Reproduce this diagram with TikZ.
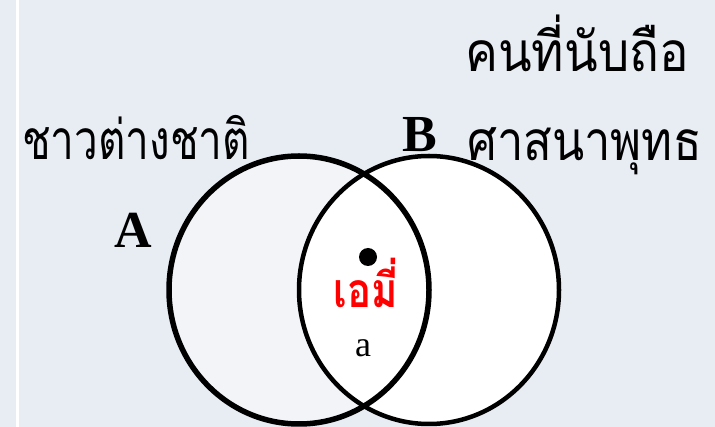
\documentclass[tikz,border=0pt]{standalone}
\usepackage{fontspec}
\setmainfont{Liberation Serif}
\newfontfamily\thaifont[Script=Thai]{Loma}
\definecolor{bgc}{HTML}{E8EDF4}
\definecolor{lfill}{HTML}{F2F4F8}
\begin{document}
\begin{tikzpicture}[x=1pt,y=-1pt,
  thaitxt/.style={font=\thaifont\fontsize{44}{48}\selectfont, inner sep=0pt, yscale=1.25},
  setlbl/.style={font=\bfseries\fontsize{52}{56}\selectfont, inner sep=0pt}]
\useasboundingbox (0,0) rectangle (715,427);
\fill[bgc] (0,0) rectangle (715,427);
\draw[white, line width=3pt] (17,0) -- (17,427);
\begin{scope}
\clip (0,0) rectangle (715,427);
\fill[lfill] (299,290) ellipse [x radius=130, y radius=134];
\fill[white] (429,290) ellipse [x radius=130, y radius=134];
\draw[line width=5.5pt] (299,290) ellipse [x radius=130, y radius=134];
\draw[line width=4.5pt] (429,290) ellipse [x radius=130, y radius=134];
\end{scope}
\node[thaitxt, xscale=0.96, anchor=base west] (t1) at (22,160) {ชาวต่างชาติ};
\node[thaitxt, xscale=1.12, anchor=base west] (t2) at (465,72) {คนที่นับถือ};
\node[thaitxt, xscale=1.07, anchor=base west] (t3) at (467,161) {ศาสนาพุทธ};
\node[setlbl, anchor=base west] (A) at (114,248) {A};
\node[setlbl, anchor=base west] (B) at (402,152) {B};
\fill (368,257) circle [radius=9];
\node[font=\thaifont\bfseries\fontsize{40}{44}\selectfont, text=red, inner sep=0pt, text depth=0pt, anchor=base, yscale=1.2] (emi) at (366,308) {เอมี่};
\node[font=\fontsize{36}{40}\selectfont, inner sep=0pt, anchor=base] (a) at (363,357) {a};
\end{tikzpicture}
\end{document}
